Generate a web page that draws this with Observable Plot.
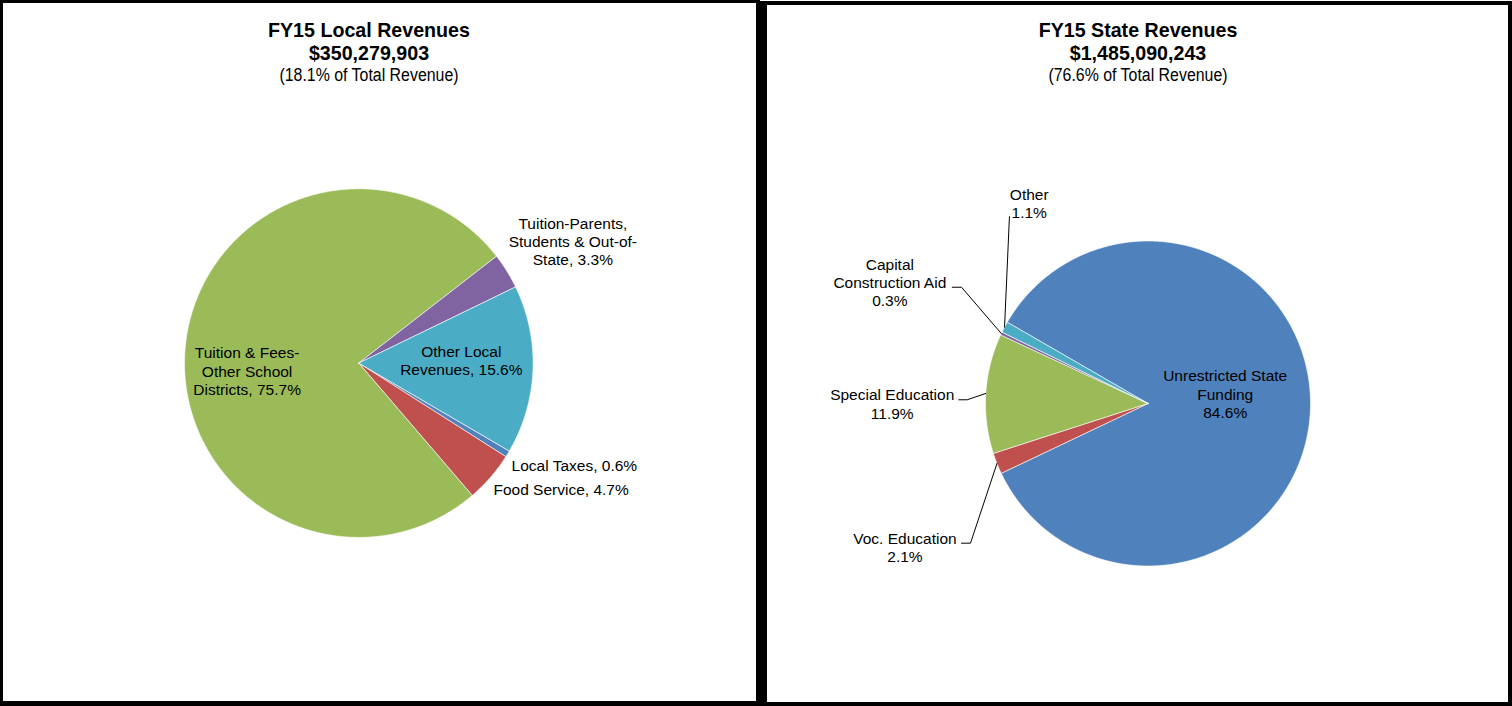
<!DOCTYPE html>
<html><head><meta charset="utf-8">
<script src="https://cdn.jsdelivr.net/npm/d3@7"></script>
<script src="https://cdn.jsdelivr.net/npm/@observablehq/plot@0.6"></script>
<style>
html,body{margin:0;padding:0;background:#fff;overflow:hidden;}
#page{position:relative;width:1512px;height:706px;font-family:"Liberation Sans",Arial,sans-serif;}
.panel{position:absolute;box-sizing:border-box;border-style:solid;border-color:#000;}
.t{position:absolute;white-space:nowrap;line-height:1;color:#000;transform-origin:center;}
.chart{position:absolute;}
</style></head><body><div id="page"></div>
<script>
// ---------- data ----------
const localTitle = ["FY15 Local Revenues", "$350,279,903", "(18.1% of Total Revenue)"];
const localCategories = ["Local Taxes", "Food Service", "Tuition & Fees-Other School Districts", "Tuition-Parents, Students & Out-of-State", "Other Local Revenues"];
const localValues = [0.6, 4.7, 75.7, 3.3, 15.6];
const localLabels = ["Local Taxes, 0.6%", "Food Service, 4.7%", "Tuition & Fees-\nOther School\nDistricts, 75.7%", "Tuition-Parents,\nStudents & Out-of-\nState, 3.3%", "Other Local\nRevenues, 15.6%"];

const stateTitle = ["FY15 State Revenues", "$1,485,090,243", "(76.6% of Total Revenue)"];
const stateCategories = ["Unrestricted State Funding", "Voc. Education", "Special Education", "Capital Construction Aid", "Other"];
const stateValues = [84.6, 2.1, 11.9, 0.3, 1.1];
const stateLabels = ["Unrestricted State\nFunding\n84.6%", "Voc. Education\n2.1%", "Special Education\n11.9%", "Capital\nConstruction Aid\n0.3%", "Other\n1.1%"];

const sliceColors = ["#4F81BD", "#C0504D", "#9BBB59", "#8064A2", "#4BACC6"];

// ---------- layout ----------
const page = document.getElementById("page");
const FONT = "'Liberation Sans', Arial, sans-serif";

function panel(left, top, w, h, bw) {
  const d = document.createElement("div");
  d.className = "panel";
  Object.assign(d.style, {left: left + "px", top: top + "px", width: w + "px", height: h + "px", borderWidth: bw});
  page.appendChild(d);
}
panel(0, 0, 760, 706, "3px 4px 5px 3px");
panel(760, 1, 752, 705, "4px 4px 4px 7px");

function titleBlock(lines, cx) {
  const specs = [
    {size: 20.5, weight: "bold", center: 30, sx: 0.958},
    {size: 20.5, weight: "bold", center: 53, sx: 0.958},
    {size: 18, weight: "normal", center: 75, sx: 0.883}
  ];
  lines.forEach((txt, i) => {
    const s = specs[i];
    const d = document.createElement("div");
    d.className = "t";
    d.textContent = txt;
    Object.assign(d.style, {
      left: cx + "px", top: (s.center - 0.489 * s.size) + "px",
      fontSize: s.size + "px", fontWeight: s.weight,
      transform: "translateX(-50%) scaleX(" + s.sx + ")"
    });
    page.appendChild(d);
  });
}
titleBlock(localTitle, 369);
titleBlock(stateTitle, 1138);

const rad = d => d * Math.PI / 180;

function pie(cfg) {
  const {categories, values, labels, startDeg, box, cx, cy, r, layout} = cfg;
  const total = d3.sum(values);
  let acc = startDeg;
  const slices = categories.map((name, i) => {
    const a0 = acc, a1 = acc + values[i] / total * 360;
    acc = a1;
    return {name, a0, a1, mid: (a0 + a1) / 2, label: labels[i], i};
  });
  const pts = [];
  for (const s of slices) {
    pts.push({name: s.name, x: 0, y: 0});
    const n = Math.max(2, Math.ceil((s.a1 - s.a0) / 0.5));
    for (let k = 0; k <= n; k++) {
      const t = rad(s.a0 + (s.a1 - s.a0) * k / n);
      pts.push({name: s.name, x: Math.sin(t), y: Math.cos(t)});
    }
    pts.push({name: s.name, x: 0, y: 0});
  }
  const texts = [], leaders = [];
  slices.forEach((s, i) => {
    const L = layout[i];
    const ex = Math.sin(rad(s.mid)), ey = Math.cos(rad(s.mid));
    if (L.elbow) {
      const bx = ex + L.elbow[0] / r, by = ey - L.elbow[1] / r;
      const tx = bx + L.tail / r, ty = by;
      leaders.push({name: s.name, x: ex, y: ey}, {name: s.name, x: bx, y: by}, {name: s.name, x: tx, y: ty});
      texts.push({label: s.label, x: tx + L.text[0] / r, y: ty - L.text[1] / r, anchor: "middle"});
    } else {
      texts.push({label: s.label, x: L.k * ex + L.dx / r, y: L.k * ey - L.dy / r, anchor: L.anchor || "middle"});
    }
  });
  const x0 = cx - box.left, y0 = cy - box.top;
  const textOpts = (anchor) => ({x: "x", y: "y", text: "label", fill: "#000", fontSize: 15.5,
    fontFamily: FONT, lineAnchor: "middle", lineHeight: 1.18, textAnchor: anchor});
  const chart = Plot.plot({
    width: box.width, height: box.height, margin: 0,
    x: {domain: [-1, 1], range: [x0 - r, x0 + r], axis: null},
    y: {domain: [-1, 1], range: [y0 + r, y0 - r], axis: null},
    color: {domain: categories, range: sliceColors},
    style: {background: "transparent", fontFamily: FONT, overflow: "visible"},
    marks: [
      Plot.line(pts, {x: "x", y: "y", z: "name", fill: "name", stroke: "#fff", strokeWidth: 0.6, curve: "linear"}),
      Plot.line(leaders, {x: "x", y: "y", z: "name", stroke: "#000", strokeWidth: 1, curve: "linear"}),
      Plot.text(texts.filter(d => d.anchor === "middle"), textOpts("middle")),
      Plot.text(texts.filter(d => d.anchor === "start"), textOpts("start"))
    ]
  });
  chart.classList.add("chart");
  Object.assign(chart.style, {left: box.left + "px", top: box.top + "px"});
  page.appendChild(chart);
}

pie({
  categories: localCategories, values: localValues, labels: localLabels,
  startDeg: 120.3, cx: 358.3, cy: 362.6, r: 174.3,
  box: {left: 4, top: 92, width: 750, height: 606},
  layout: [
    {k: 1.0, dx: 4, dy: 11, anchor: "start"},
    {k: 1.0, dx: 3, dy: 12, anchor: "start"},
    {k: 0.65, dx: 1, dy: 19},
    {k: 1.25, dx: 29, dy: -7},
    {k: 0.6, dx: -2, dy: -7}
  ]
});

pie({
  categories: stateCategories, values: stateValues, labels: stateLabels,
  startDeg: 300, cx: 1147.5, cy: 403, r: 162.5,
  box: {left: 768, top: 92, width: 739, height: 608},
  layout: [
    {k: 0.5, dx: -4, dy: -13},
    {elbow: [-26.5, 79.7], tail: -9, text: [-56.5, 4.3]},
    {elbow: [-18.6, 6.3], tail: -8.4, text: [-66.6, 3.9]},
    {elbow: [-39.8, -46.3], tail: -9.3, text: [-62.4, -5.3]},
    {elbow: [4.9, -110.7], tail: 0, text: [19.8, -13.5]}
  ]
});
</script>
</body></html>
